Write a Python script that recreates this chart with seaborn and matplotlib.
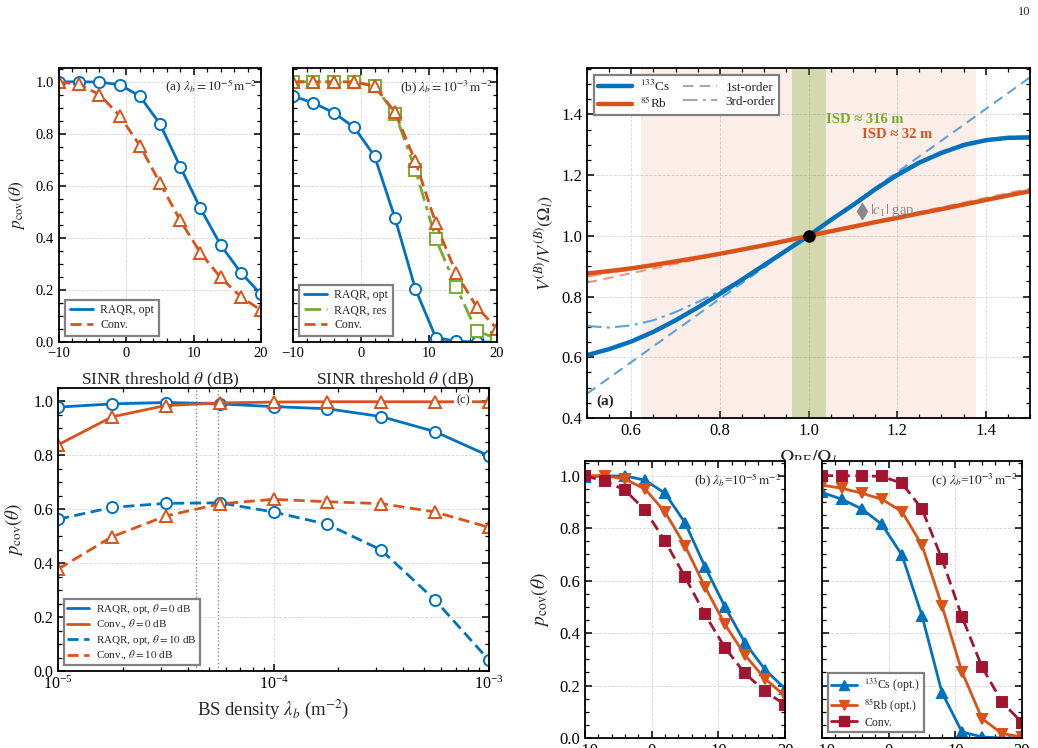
import numpy as np
import pandas as pd
import seaborn as sns
import matplotlib.pyplot as plt
from matplotlib.lines import Line2D
from matplotlib.patches import Rectangle
from matplotlib.ticker import MultipleLocator

# ---- data ----
theta = [-10, -7, -4, -1, 2, 5, 8, 11, 14, 17, 20]

# top-left (a), lambda_b = 1e-5
a_raqr = [1.0, 1.0, 0.999, 0.989, 0.945, 0.838, 0.674, 0.514, 0.373, 0.267, 0.183]
a_conv = [0.999, 0.99, 0.951, 0.870, 0.755, 0.611, 0.467, 0.343, 0.248, 0.174, 0.122]

# top (b), lambda_b = 1e-3
b_raqr_opt = [0.945, 0.919, 0.881, 0.825, 0.714, 0.476, 0.204, 0.017, 0.003, 0.0, 0.0]
b_raqr_res = [1.0, 1.0, 1.0, 1.0, 0.983, 0.878, 0.662, 0.396, 0.212, 0.042, 0.014]
b_conv = [1.0, 1.0, 1.0, 1.0, 0.983, 0.883, 0.694, 0.456, 0.264, 0.135, 0.051]

# bottom-left (c), vs BS density
lam = [1.0e-5, 1.78e-5, 3.16e-5, 5.62e-5, 1.0e-4, 1.78e-4, 3.16e-4, 5.62e-4, 1.0e-3]
c_raqr_0 = [0.979, 0.991, 0.996, 0.991, 0.981, 0.973, 0.944, 0.888, 0.798]
c_conv_0 = [0.839, 0.943, 0.985, 0.994, 0.998, 0.999, 0.999, 0.999, 0.999]
c_raqr_10 = [0.563, 0.607, 0.622, 0.624, 0.590, 0.544, 0.449, 0.263, 0.040]
c_conv_10 = [0.378, 0.498, 0.575, 0.620, 0.637, 0.628, 0.621, 0.590, 0.533]
lam_marks = [4.37e-5, 5.5e-5]

# right (a), normalised response
omega = [0.5, 0.55, 0.6, 0.65, 0.7, 0.75, 0.8, 0.85, 0.9, 0.95, 1.0,
         1.05, 1.1, 1.15, 1.2, 1.25, 1.3, 1.35, 1.4, 1.45, 1.5]
cs_exact = [0.607, 0.627, 0.652, 0.684, 0.722, 0.764, 0.809, 0.856, 0.904, 0.952, 1.0,
            1.052, 1.101, 1.153, 1.200, 1.241, 1.273, 1.299, 1.315, 1.323, 1.324]
cs_3rd = [0.703, 0.698, 0.705, 0.722, 0.749, 0.782, 0.818, 0.858, 0.904, 0.952, 1.0,
          1.050, 1.101, 1.156, 1.205, 1.245, 1.278, 1.303, 1.318, 1.326, 1.328]
rb_exact = [0.876, 0.884, 0.893, 0.904, 0.916, 0.928, 0.941, 0.955, 0.969, 0.984, 1.0,
            1.015, 1.030, 1.045, 1.059, 1.074, 1.088, 1.103, 1.118, 1.133, 1.147]
rb_3rd = [0.866, 0.878, 0.889, 0.901, 0.914, 0.927, 0.940, 0.954, 0.969, 0.984, 1.0,
          1.015, 1.030, 1.045, 1.060, 1.075, 1.090, 1.105, 1.120, 1.136, 1.152]
lin_x = [0.5, 1.5]
cs_1st = [0.480, 1.522]
rb_1st = [0.846, 1.156]

# bottom-right (b) lambda_b = 1e-5 and (c) lambda_b = 1e-3
d_cs = [0.996, 0.999, 0.999, 0.983, 0.933, 0.821, 0.653, 0.500, 0.363, 0.261, 0.188]
d_rb = [1.0, 1.0, 0.987, 0.949, 0.862, 0.733, 0.576, 0.433, 0.316, 0.226, 0.160]
d_conv = [0.999, 0.980, 0.945, 0.869, 0.751, 0.614, 0.471, 0.344, 0.246, 0.178, 0.127]
e_cs = [0.936, 0.910, 0.873, 0.814, 0.697, 0.466, 0.173, 0.023, 0.004, 0.0, 0.0]
e_rb = [0.964, 0.952, 0.933, 0.910, 0.863, 0.735, 0.504, 0.252, 0.074, 0.017, 0.004]
e_conv = [1.0, 1.0, 1.0, 0.997, 0.971, 0.873, 0.682, 0.462, 0.271, 0.137, 0.059]

BLUE = "#0072BD"
ORANGE = "#D95319"
GREEN = "#77AC30"
RED = "#A2142F"

sns.set_theme(style="ticks")
plt.rcParams["font.family"] = ["Liberation Serif", "DejaVu Serif"]
plt.rcParams["mathtext.fontset"] = "stix"
plt.rcParams["axes.edgecolor"] = "black"
plt.rcParams["axes.linewidth"] = 1.3

W, H = 1038, 748
fig = plt.figure(figsize=(W / 100, H / 100), dpi=100)


def add_ax(x0, y0, x1, y1, z=0):
    ax = fig.add_axes([x0 / W, 1 - y1 / H, (x1 - x0) / W, (y1 - y0) / H])
    ax.set_zorder(z)
    ax.set_facecolor("white")
    return ax


def style(ax, fs, log=False):
    ax.tick_params(which="both", direction="in", top=True, right=True,
                   labelsize=fs, colors="black")
    ax.tick_params(which="major", length=5, width=1.1)
    ax.tick_params(which="minor", length=3, width=0.9)
    ax.grid(True, which="major", ls="--", lw=0.6, color="#d5d5d5")
    if not log:
        ax.minorticks_on()


def curve(ax, x, y, color, ls="-", marker=None, filled=False, ms=8, lw=2.0):
    sns.lineplot(x=x, y=y, ax=ax, color=color, linestyle=ls, lw=lw,
                 marker=marker, markersize=ms,
                 markerfacecolor=color if filled else "white",
                 markeredgecolor=color, markeredgewidth=1.4,
                 estimator=None, sort=False, legend=False)


def legend(ax, handles, labels, fs, **kw):
    kw.setdefault("labelspacing", 0.25)
    kw.setdefault("borderpad", 0.4)
    lg = ax.legend(handles, labels, fontsize=fs, fancybox=False, framealpha=1,
                   edgecolor="#808080", handletextpad=0.6, **kw)
    lg.get_frame().set_linewidth(1.6)
    return lg


# ---------- top-left (a) ----------
ax = add_ax(59, 68, 261, 342)
curve(ax, theta, a_raqr, BLUE, "-", "o")
curve(ax, theta, a_conv, ORANGE, (0, (4, 2)), "^")
ax.set_xlim(-10, 20)
ax.set_ylim(0, 1.053)
ax.xaxis.set_major_locator(MultipleLocator(10))
ax.xaxis.set_minor_locator(MultipleLocator(2))
ax.yaxis.set_major_locator(MultipleLocator(0.2))
ax.yaxis.set_minor_locator(MultipleLocator(0.05))
style(ax, 10.5)
ax.set_xlabel(r"SINR threshold $\theta$ (dB)", fontsize=12.5, labelpad=8)
ax.set_ylabel(r"$p_{\mathrm{cov}}(\theta)$", fontsize=12.5, labelpad=6)
ax.text(0.98, 0.93, r"(a) $\lambda_b=10^{-5}\,\mathrm{m}^{-2}$", transform=ax.transAxes,
        ha="right", va="center", fontsize=9.5)
legend(ax, [Line2D([], [], color=BLUE, lw=2),
            Line2D([], [], color=ORANGE, lw=2, ls=(0, (4, 2)))],
       ["RAQR, opt", "Conv."], 8.5, loc="lower left")

# ---------- top (b) ----------
ax = add_ax(293, 68, 497, 342)
curve(ax, theta, b_raqr_opt, BLUE, "-", "o")
curve(ax, theta, b_raqr_res, GREEN, (0, (6, 2, 1.5, 2)), "s")
curve(ax, theta, b_conv, ORANGE, (0, (4, 2)), "^")
ax.set_xlim(-10, 20)
ax.set_ylim(0, 1.053)
ax.xaxis.set_major_locator(MultipleLocator(10))
ax.xaxis.set_minor_locator(MultipleLocator(2))
ax.yaxis.set_major_locator(MultipleLocator(0.2))
ax.yaxis.set_minor_locator(MultipleLocator(0.05))
style(ax, 10.5)
ax.tick_params(labelleft=False)
ax.set_xlabel(r"SINR threshold $\theta$ (dB)", fontsize=12.5, labelpad=8)
ax.text(0.98, 0.93, r"(b) $\lambda_b=10^{-3}\,\mathrm{m}^{-2}$", transform=ax.transAxes,
        ha="right", va="center", fontsize=9.5)
legend(ax, [Line2D([], [], color=BLUE, lw=2),
            Line2D([], [], color=GREEN, lw=2, ls=(0, (6, 2, 1.5, 2))),
            Line2D([], [], color=ORANGE, lw=2, ls=(0, (4, 2)))],
       ["RAQR, opt", "RAQR, res", "Conv."], 8.5, loc="lower left")

# ---------- bottom-left (c) ----------
ax = add_ax(58, 388, 489, 671, z=2)
ax.set_xscale("log")
for v in lam_marks:
    ax.axvline(v, color="#888888", ls=":", lw=1.0)
curve(ax, lam, c_raqr_0, BLUE, "-", "o")
curve(ax, lam, c_conv_0, ORANGE, "-", "^")
curve(ax, lam, c_raqr_10, BLUE, (0, (4, 2)), "o")
curve(ax, lam, c_conv_10, ORANGE, (0, (4, 2)), "^")
ax.set_xlim(1e-5, 1e-3)
ax.set_ylim(0, 1.05)
ax.yaxis.set_major_locator(MultipleLocator(0.2))
ax.yaxis.set_minor_locator(MultipleLocator(0.05))
style(ax, 11.5, log=True)
ax.set_xlabel(r"BS density $\lambda_b$ (m$^{-2}$)", fontsize=13.5, labelpad=3)
ax.set_ylabel(r"$p_{\mathrm{cov}}(\theta)$", fontsize=13.5, labelpad=6)
ax.text(0.94, 0.955, "(c)", transform=ax.transAxes, ha="center", va="center",
        fontsize=9, bbox=dict(facecolor="white", edgecolor="none", pad=1.5))
legend(ax, [Line2D([], [], color=BLUE, lw=2),
            Line2D([], [], color=ORANGE, lw=2),
            Line2D([], [], color=BLUE, lw=2, ls=(0, (4, 2))),
            Line2D([], [], color=ORANGE, lw=2, ls=(0, (4, 2)))],
       [r"RAQR, opt, $\theta=0$ dB", r"Conv., $\theta=0$ dB",
        r"RAQR, opt, $\theta=10$ dB", r"Conv., $\theta=10$ dB"], 8,
       loc="lower left", labelspacing=0.15, borderpad=0.3)

# ---------- right (a) ----------
ax = add_ax(587, 68, 1030, 418)
ax.axvspan(0.622, 1.379, color=ORANGE, alpha=0.1, lw=0)
ax.axvspan(0.962, 1.040, color=GREEN, alpha=0.3, lw=0)
curve(ax, lin_x, cs_1st, "#5DA3D9", (0, (5, 3)), lw=1.5)
curve(ax, lin_x, rb_1st, "#EE9A7A", (0, (5, 3)), lw=1.5)
curve(ax, omega, cs_3rd, "#5DA3D9", (0, (7, 2.5, 1.5, 2.5)), lw=1.5)
curve(ax, omega, rb_3rd, "#EE9A7A", (0, (7, 2.5, 1.5, 2.5)), lw=1.5)
curve(ax, omega, cs_exact, BLUE, "-", lw=3.2)
curve(ax, omega, rb_exact, ORANGE, "-", lw=3.2)
ax.plot([1.0], [1.0], "o", color="black", ms=8, zorder=5)
ax.plot([1.12, 1.12], [1.066, 1.098], color="#888888", lw=1.2)
ax.plot([1.12], [1.082], marker="d", color="#888888", ms=8)
ax.text(1.138, 1.082, r"$|c_1|$ gap", color="#888888", fontsize=10.5, va="center")
ax.text(1.214, 1.383, "ISD ≈ 316 m", color=GREEN, fontsize=10.5, fontweight="bold",
        ha="right", va="center")
ax.text(1.280, 1.335, "ISD ≈ 32 m", color=ORANGE, fontsize=10.5, fontweight="bold",
        ha="right", va="center")
ax.text(0.022, 0.03, "(a)", transform=ax.transAxes, fontsize=11, fontweight="bold",
        ha="left", va="bottom")
ax.set_xlim(0.5, 1.5)
ax.set_ylim(0.4, 1.553)
ax.xaxis.set_major_locator(MultipleLocator(0.2))
ax.xaxis.set_minor_locator(MultipleLocator(0.05))
ax.yaxis.set_major_locator(MultipleLocator(0.2))
ax.yaxis.set_minor_locator(MultipleLocator(0.1))
style(ax, 12)
ax.set_xlabel(r"$\Omega_{\mathrm{RF}}/\Omega_l$", fontsize=14, labelpad=7)
ax.set_ylabel(r"$V^{(B)}/V^{(B)}(\Omega_l)$", fontsize=13, labelpad=4)
legend(ax, [Line2D([], [], color=BLUE, lw=3.2),
            Line2D([], [], color=ORANGE, lw=3.2),
            Line2D([], [], color="#a8a8a8", lw=1.5, ls=(0, (5, 3))),
            Line2D([], [], color="#a8a8a8", lw=1.5, ls=(0, (7, 2.5, 1.5, 2.5)))],
       [r"$^{133}$Cs", r"$^{85}$Rb", "1st-order", "3rd-order"], 9.5,
       loc="upper left", ncol=2, columnspacing=1.0, handlelength=2.6,
       labelspacing=0.15, borderpad=0.3)

# white sheet behind the lower-right panels (covers the x label bottom)
fig.patches.append(Rectangle((520 / W, 0), 1 - 520 / W, (H - 460) / H,
                             transform=fig.transFigure, facecolor="white",
                             edgecolor="none", zorder=1))

# ---------- bottom-right (b) ----------
ax = add_ax(585, 461, 785, 738, z=2)
curve(ax, theta, d_cs, BLUE, "-", "^", filled=True, ms=6.5)
curve(ax, theta, d_rb, ORANGE, "-", "v", filled=True, ms=6.5)
curve(ax, theta, d_conv, RED, (0, (4, 2)), "s", filled=True, ms=6.5)
ax.set_xlim(-10, 20)
ax.set_ylim(0, 1.056)
ax.xaxis.set_major_locator(MultipleLocator(10))
ax.xaxis.set_minor_locator(MultipleLocator(2))
ax.yaxis.set_major_locator(MultipleLocator(0.2))
ax.yaxis.set_minor_locator(MultipleLocator(0.05))
style(ax, 12)
ax.set_ylabel(r"$p_{\mathrm{cov}}(\theta)$", fontsize=14, labelpad=6)
ax.text(0.98, 0.93, r"(b) $\lambda_b$=$10^{-5}\,\mathrm{m}^{-2}$", transform=ax.transAxes,
        ha="right", va="center", fontsize=9.5)

# ---------- bottom-right (c) ----------
ax = add_ax(822, 461, 1022, 738, z=2)
curve(ax, theta, e_cs, BLUE, "-", "^", filled=True, ms=6.5)
curve(ax, theta, e_rb, ORANGE, "-", "v", filled=True, ms=6.5)
curve(ax, theta, e_conv, RED, (0, (4, 2)), "s", filled=True, ms=6.5)
ax.set_xlim(-10, 20)
ax.set_ylim(0, 1.056)
ax.xaxis.set_major_locator(MultipleLocator(10))
ax.xaxis.set_minor_locator(MultipleLocator(2))
ax.yaxis.set_major_locator(MultipleLocator(0.2))
ax.yaxis.set_minor_locator(MultipleLocator(0.05))
style(ax, 12)
ax.tick_params(labelleft=False)
ax.text(0.98, 0.93, r"(c) $\lambda_b$=$10^{-3}\,\mathrm{m}^{-2}$", transform=ax.transAxes,
        ha="right", va="center", fontsize=9.5)
legend(ax, [Line2D([], [], color=BLUE, lw=2, marker="^", ms=6.5),
            Line2D([], [], color=ORANGE, lw=2, marker="v", ms=6.5),
            Line2D([], [], color=RED, lw=2, marker="s", ms=6.5)],
       [r"$^{133}$Cs (opt.)", r"$^{85}$Rb (opt.)", "Conv."], 8.5,
       loc="lower left", labelspacing=0.2, borderpad=0.3, handlelength=2.2)

fig.text(1024 / W, 1 - 12 / H, "10", fontsize=9, ha="center", va="center")

fig.savefig("out.png", dpi=100, facecolor="white")
